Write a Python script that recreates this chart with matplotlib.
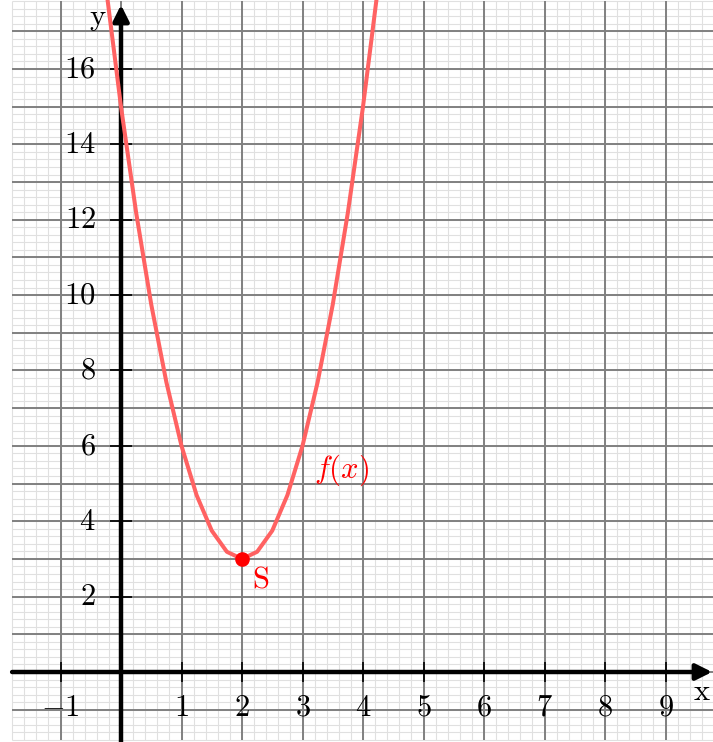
import numpy as np
import matplotlib
matplotlib.use("Agg")
import matplotlib.pyplot as plt

plt.rcParams['mathtext.fontset'] = 'cm'

curve_x = [-0.25, 0.0, 0.25, 0.5, 0.75, 1.0, 1.25, 1.5, 1.75, 2.0,
           2.25, 2.5, 2.75, 3.0, 3.25, 3.5, 3.75, 4.0, 4.25]
curve_y = [18.19, 15.0, 12.19, 9.75, 7.69, 6.0, 4.69, 3.75, 3.19, 3.0,
           3.19, 3.75, 4.69, 6.0, 7.69, 9.75, 12.19, 15.0, 18.19]

vertex_x = [2]
vertex_y = [3]

x_ticks = [-1, 1, 2, 3, 4, 5, 6, 7, 8, 9]
x_tick_labels = ['$-1$', '$1$', '$2$', '$3$', '$4$', '$5$', '$6$', '$7$', '$8$', '$9$']
y_ticks = [2, 4, 6, 8, 10, 12, 14, 16]
y_tick_labels = ['$2$', '$4$', '$6$', '$8$', '$10$', '$12$', '$14$', '$16$']

FS = 22

fig = plt.figure(figsize=(7.13, 7.42), dpi=100)
ax = fig.add_axes([0, 0, 1, 1])
ax.set_xlim(-2.0, 9.785)
ax.set_ylim(-1.857, 17.83)
ax.axis('off')

# grid
gx0, gx1, gy0, gy1 = -1.8, 9.8, -1.8, 17.8
minor_x = np.arange(-1.8, 9.81, 0.2)
minor_y = np.arange(-1.8, 17.81, 0.2)
ax.vlines(minor_x, gy0, gy1, colors='#e0e0e0', lw=0.8, zorder=1)
ax.hlines(minor_y, gx0, gx1, colors='#e0e0e0', lw=0.8, zorder=1)
ax.vlines(np.arange(-1, 10), gy0, gy1, colors='#808080', lw=1.4, zorder=2)
ax.hlines(np.arange(-1, 18), gx0, gx1, colors='#808080', lw=1.4, zorder=2)

# axes with arrows
ax.annotate('', xy=(9.77, 0), xytext=(-1.8, 0),
            arrowprops=dict(arrowstyle='-|>', lw=3.2, color='black',
                            mutation_scale=24, shrinkA=0, shrinkB=0), zorder=4)
ax.annotate('', xy=(0, 17.7), xytext=(0, -1.86),
            arrowprops=dict(arrowstyle='-|>', lw=3.2, color='black',
                            mutation_scale=24, shrinkA=0, shrinkB=0), zorder=4)

# ticks and tick labels
ax.vlines(x_ticks, -0.27, 0.27, colors='black', lw=1.2, zorder=4)
ax.hlines(y_ticks, -0.18, 0.18, colors='black', lw=1.2, zorder=4)
for xv, lab in zip(x_ticks, x_tick_labels):
    ax.text(xv, -0.93, lab, fontsize=FS, ha='center', va='center', zorder=6)
for yv, lab in zip(y_ticks, y_tick_labels):
    ax.text(-0.42, yv, lab, fontsize=FS, ha='right', va='center', zorder=6)

ax.text(-0.38, 17.35, r'$\mathrm{y}$', fontsize=FS, ha='center', va='center', zorder=6)
ax.text(9.6, -0.53, r'$\mathrm{x}$', fontsize=FS, ha='center', va='center', zorder=6)

# curve and vertex
ax.plot(curve_x, curve_y, color='#ff6262', lw=2.9, zorder=5)
ax.plot(vertex_x, vertex_y, 'o', color='#ff0000', ms=9.5, zorder=7)
ax.text(2.3, 2.47, r'$\mathrm{S}$', fontsize=FS, color='#ff0000', ha='center', va='center', zorder=6)
ax.text(3.65, 5.36, r'$f(x)$', fontsize=FS, color='#ff0000', ha='center', va='center', zorder=6)

fig.savefig('out.png', dpi=100)
